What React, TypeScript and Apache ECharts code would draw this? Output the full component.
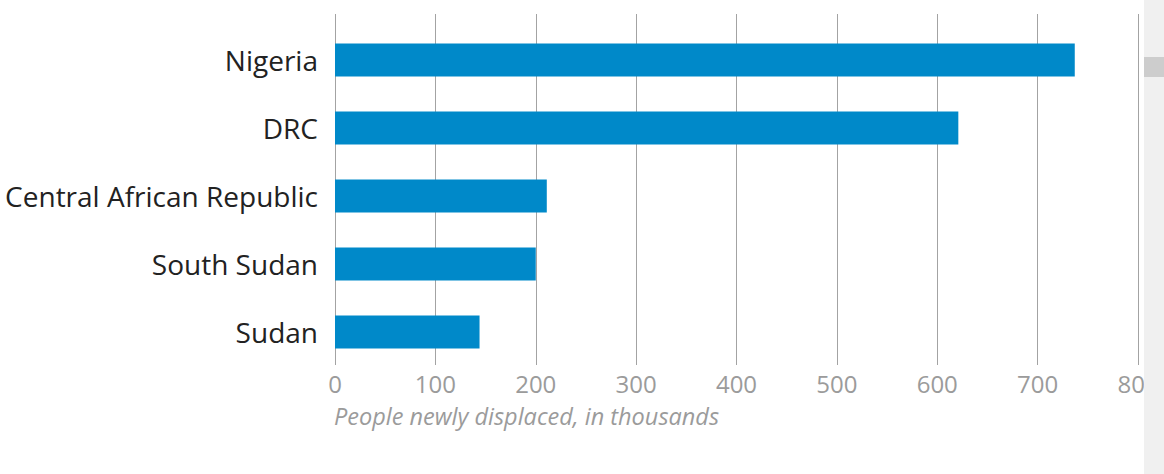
import React, { useEffect, useRef } from "react";
import * as echarts from "echarts";

const categories = ["Nigeria", "DRC", "Central African Republic", "South Sudan", "Sudan"];
const displaced = [737, 621, 211, 200, 144];
const axisTitle = "People newly displaced, in thousands";
const xMin = 0;
const xMax = 800;
const xStep = 100;

export default function App() {
  const ref = useRef<HTMLDivElement>(null);
  useEffect(() => {
    document.body.style.margin = "0";
    const chart = echarts.init(ref.current!, undefined, { renderer: "svg" });
    const font = "'Open Sans', 'Noto Sans', sans-serif";
    chart.setOption({
      animation: false,
      backgroundColor: "#ffffff",
      textStyle: { fontFamily: font },
      grid: [
        { left: 335, right: 26, top: 26, height: 340 },
        { left: 335, right: 26, top: 14, height: 351 },
      ],
      xAxis: [
        {
          gridIndex: 0,
          type: "value",
          min: xMin,
          max: xMax,
          interval: xStep,
          axisLine: { show: false },
          axisTick: { show: false },
          axisLabel: { show: false },
          splitLine: { show: false },
        },
        {
          gridIndex: 1,
          type: "value",
          min: xMin,
          max: xMax,
          interval: xStep,
          axisLine: { show: false },
          axisTick: { show: false },
          axisLabel: { color: "#9b9b9b", fontSize: 24, margin: 6, fontFamily: font },
          splitLine: { show: true, lineStyle: { color: "#a3a3a3", width: 1 } },
        },
      ],
      yAxis: [
        {
          gridIndex: 0,
          type: "category",
          data: categories,
          inverse: true,
          axisLine: { show: false },
          axisTick: { show: false },
          axisLabel: { color: "#222222", fontSize: 28, margin: 17, fontFamily: font },
          splitLine: { show: false },
        },
        {
          gridIndex: 1,
          type: "value",
          show: false,
        },
      ],
      series: [
        {
          type: "bar",
          xAxisIndex: 0,
          yAxisIndex: 0,
          data: displaced,
          barWidth: 33,
          itemStyle: { color: "#0089c9" },
          z: 5,
        },
      ],
      graphic: [
        {
          type: "text",
          left: 334,
          top: 404,
          style: {
            text: axisTitle,
            fill: "#9b9b9b",
            fontSize: 23.5,
            fontStyle: "italic",
            fontFamily: font,
          },
        },
        {
          type: "rect",
          shape: { x: 1144, y: 0, width: 20, height: 474 },
          style: { fill: "#f0f0f0" },
          z: 100,
        },
        {
          type: "rect",
          shape: { x: 1144, y: 57, width: 20, height: 20 },
          style: { fill: "#cdcdcd" },
          z: 101,
        },
      ],
    });
    return () => chart.dispose();
  }, []);
  return <div ref={ref} style={{ width: 1164, height: 474 }} />;
}
